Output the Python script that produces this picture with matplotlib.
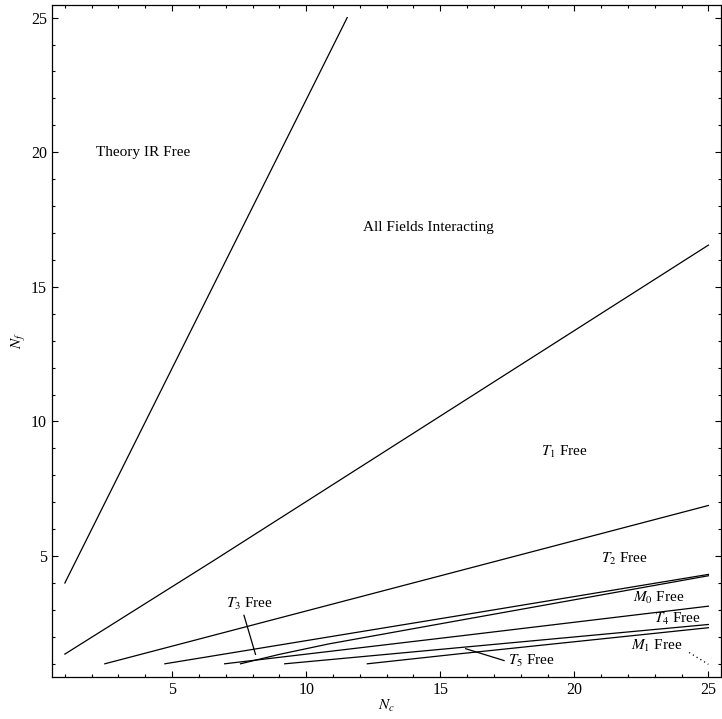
import matplotlib

matplotlib.use("Agg")
import matplotlib.pyplot as plt
from matplotlib.ticker import MultipleLocator

plt.rcParams["font.family"] = ["Liberation Serif", "DejaVu Serif"]
plt.rcParams["mathtext.fontset"] = "stix"

# boundary curves: (N_c, N_f) points
b_ir_x = [1.0, 11.53]
b_ir_y = [4.0, 25.0]
b_t1_x = [1.0, 6.56, 25.0]
b_t1_y = [1.36, 4.84, 16.55]
b_t2_x = [2.49, 15.7, 25.0]
b_t2_y = [1.0, 4.45, 6.88]
b_t3_x = [4.73, 15.7, 25.0]
b_t3_y = [1.0, 2.79, 4.32]
b_m0_x = [7.55, 9.0, 10.85, 15.7, 25.0]
b_m0_y = [1.0, 1.35, 1.74, 2.61, 4.27]
b_t4_x = [6.96, 15.7, 25.0]
b_t4_y = [1.0, 2.03, 3.14]
b_t5_x = [9.2, 15.7, 25.0]
b_t5_y = [1.0, 1.60, 2.46]
b_m1_x = [12.28, 15.7, 25.0]
b_m1_y = [1.0, 1.37, 2.34]
dot_x = [24.28, 25.0]
dot_y = [1.42, 0.98]

solid = [(b_ir_x, b_ir_y), (b_t1_x, b_t1_y), (b_t2_x, b_t2_y), (b_t3_x, b_t3_y),
         (b_m0_x, b_m0_y), (b_t4_x, b_t4_y), (b_t5_x, b_t5_y), (b_m1_x, b_m1_y)]

# region labels: text, x, y
labels = [("Theory IR Free", 3.91, 20.0),
          ("All Fields Interacting", 14.54, 17.19),
          (r"$T_1$ Free", 19.62, 8.85),
          (r"$T_2$ Free", 21.86, 4.91),
          (r"$M_0$ Free", 23.16, 3.46),
          (r"$T_4$ Free", 23.84, 2.65),
          (r"$M_1$ Free", 23.09, 1.68),
          (r"$T_3$ Free", 7.9, 3.24),
          (r"$T_5$ Free", 18.39, 1.12)]
# pointer strokes for the two squeezed regions
ptr_t3 = ([7.68, 8.11], [2.80, 1.35])
ptr_t5 = ([15.95, 17.38], [1.56, 1.12])

fig = plt.figure(figsize=(7.22, 7.19), dpi=100, facecolor="white")
ax = fig.add_axes([0.072, 0.0588, 0.927, 0.9347])

for xs, ys in solid:
    ax.plot(xs, ys, color="black", lw=0.9)
ax.plot(dot_x, dot_y, color="black", lw=0.9, ls=(0, (1, 2.5)))
for xs, ys in (ptr_t3, ptr_t5):
    ax.plot(xs, ys, color="black", lw=0.9)

for txt, x, y in labels:
    ax.text(x, y, txt, ha="center", va="center", fontsize=11)

ax.set_xlim(0.52, 25.48)
ax.set_ylim(0.52, 25.48)
ax.xaxis.set_major_locator(MultipleLocator(5))
ax.xaxis.set_minor_locator(MultipleLocator(1))
ax.yaxis.set_major_locator(MultipleLocator(5))
ax.yaxis.set_minor_locator(MultipleLocator(1))
ax.tick_params(which="both", direction="in", top=True, right=True,
               labeltop=False, labelright=False, width=0.8, labelsize=11.5)
ax.tick_params(which="major", length=4.5)
ax.tick_params(which="minor", length=2.5)
for sp in ax.spines.values():
    sp.set_linewidth(0.9)

ax.set_xlabel(r"$N_c$", fontsize=11, labelpad=0)
ax.set_ylabel(r"$N_f$", fontsize=11, labelpad=2)

fig.savefig("out.png", dpi=100, facecolor="white")
